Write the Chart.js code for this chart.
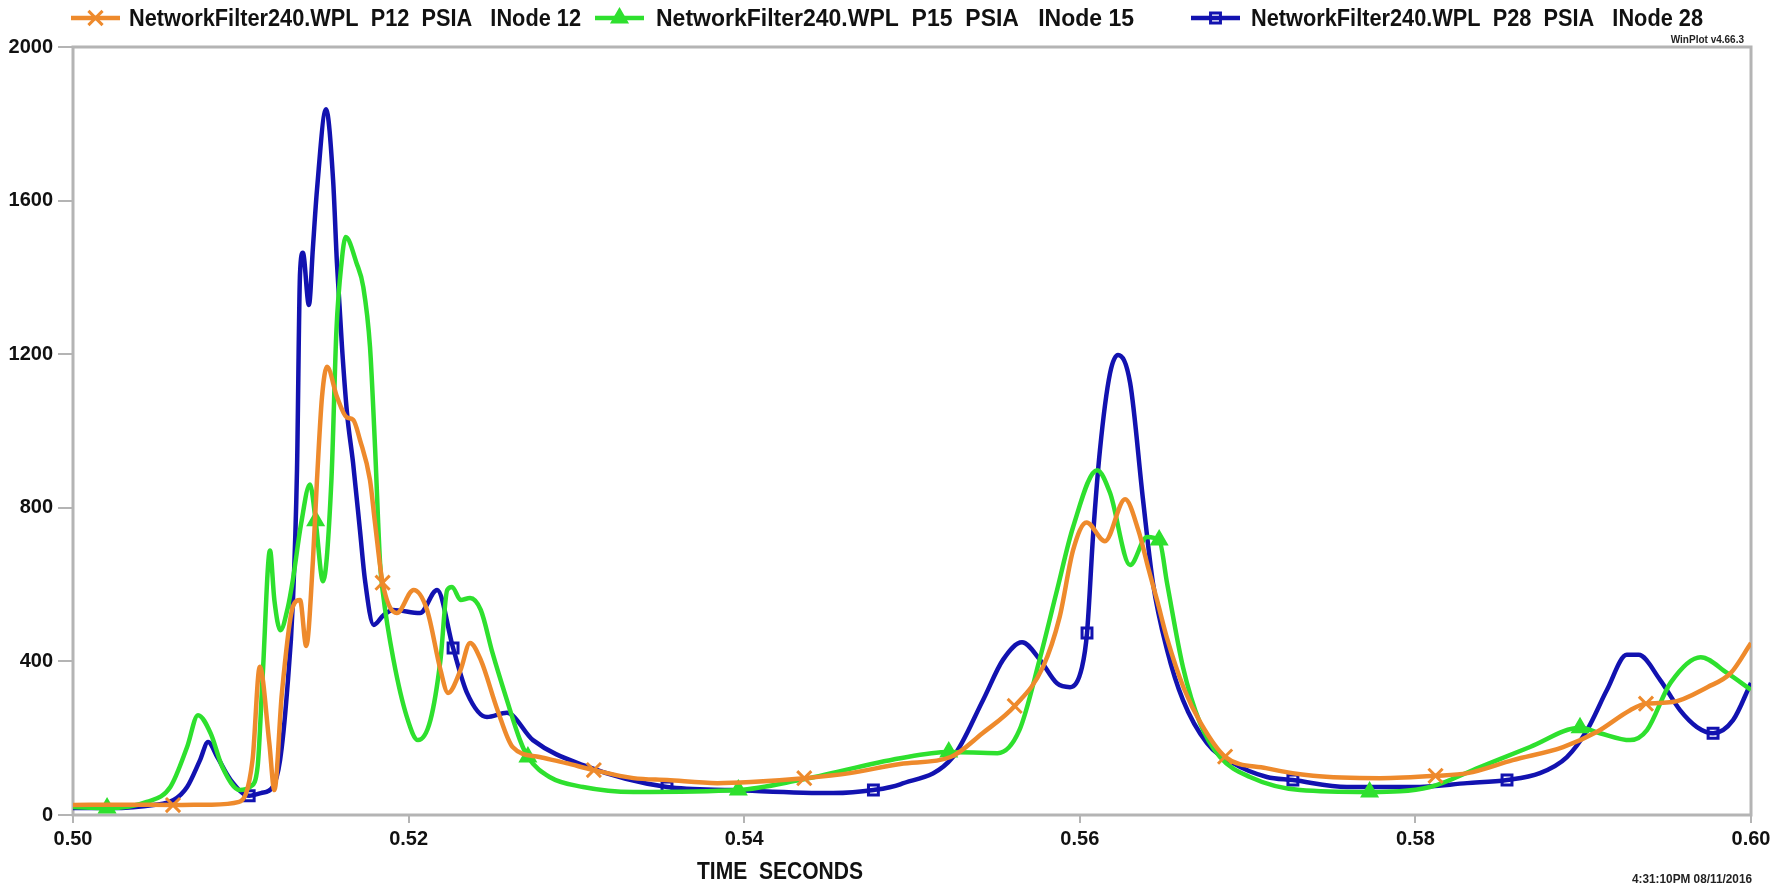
<!DOCTYPE html>
<html>
<head>
<meta charset="utf-8">
<script src="https://cdn.jsdelivr.net/npm/chart.js@4.4.1/dist/chart.umd.min.js"></script>
<style>
  html, body { margin: 0; padding: 0; background: #fff; }
  #wrap { position: relative; width: 1787px; height: 896px; }
</style>
</head>
<body>
<div id="wrap"><canvas id="chart"></canvas></div>
<script>
// tick labels
const xTicks = [0.50, 0.52, 0.54, 0.56, 0.58, 0.60];
const yTicks = [0, 400, 800, 1200, 1600, 2000];

// P12 (INode 12)
const p12Time = [0.5000, 0.5030, 0.50596, 0.5082, 0.5099, 0.5107, 0.51113, 0.5117, 0.5120, 0.51245,
  0.5131, 0.51353, 0.5139, 0.5143, 0.51454, 0.51484, 0.51514, 0.51573, 0.5163, 0.5167,
  0.5171, 0.5177, 0.5180, 0.51845, 0.5193, 0.5203, 0.5211, 0.5219, 0.52235, 0.5231,
  0.52366, 0.5243, 0.5253, 0.5262, 0.5278, 0.5294, 0.53104, 0.5334, 0.5354, 0.5384,
  0.5404, 0.54358, 0.5463, 0.5493, 0.5523, 0.5542, 0.55612, 0.5578, 0.5588, 0.5596,
  0.5604, 0.5615, 0.5627, 0.5635, 0.5641, 0.5646, 0.5652, 0.5662, 0.5672, 0.56866,
  0.5711, 0.5739, 0.5779, 0.5812, 0.5831, 0.5858, 0.5888, 0.5908, 0.5928, 0.59374,
  0.5953, 0.5974, 0.5988, 0.6000];
const p12Psia = [26, 27, 26, 27, 34, 143, 386, 187, 65, 318,
  542, 560, 440, 664, 872, 1089, 1167, 1089, 1036, 1029,
  977, 872, 760, 605, 526, 586, 534, 378, 318, 378,
  448, 404, 273, 177, 151, 135, 117, 96, 91, 83,
  86, 96, 109, 133, 151, 213, 284, 385, 516, 690,
  762, 713, 822, 740, 640, 560, 460, 330, 240, 152,
  122, 102, 96, 102, 109, 143, 177, 216, 273, 290,
  294, 333, 370, 448];
const p12Marks = [0.50596, 0.51845, 0.53104, 0.54358, 0.55612, 0.56866, 0.5812, 0.59374];

// P15 (INode 15)
const p15Time = [0.5000, 0.50203, 0.5044, 0.5058, 0.5068, 0.50745, 0.5082, 0.5089, 0.50995, 0.5106,
  0.5110, 0.5113, 0.51174, 0.5120, 0.51236, 0.5128, 0.5131, 0.5136, 0.51412, 0.51446,
  0.5149, 0.5154, 0.5157, 0.5160, 0.51625, 0.5169, 0.5173, 0.5177, 0.5180, 0.5183,
  0.51847, 0.5191, 0.5199, 0.52056, 0.5213, 0.5219, 0.5223, 0.52259, 0.5231, 0.52366,
  0.5243, 0.5250, 0.52586, 0.52664, 0.52711, 0.5284, 0.5304, 0.5334, 0.53965, 0.5433,
  0.5493, 0.55219, 0.5551, 0.5564, 0.5576, 0.5586, 0.5596, 0.56103, 0.5618, 0.5630,
  0.5640, 0.56473, 0.5652, 0.56615, 0.56716, 0.56836, 0.57014, 0.57312, 0.57727, 0.58087,
  0.58385, 0.58683, 0.58981, 0.5910, 0.5928, 0.5938, 0.5952, 0.5970, 0.59857, 0.6000];
const p15Psia = [21, 18, 34, 73, 177, 260, 213, 125, 65, 75,
  125, 359, 689, 560, 481, 540, 612, 760, 861, 766,
  609, 872, 1263, 1437, 1505, 1437, 1375, 1219, 958, 656,
  578, 404, 255, 195, 247, 404, 586, 594, 560, 565,
  534, 422, 299, 195, 151, 99, 73, 60, 65, 91,
  148, 164, 161, 221, 404, 578, 750, 898, 839, 651,
  724, 716, 604, 385, 240, 151, 99, 65, 60, 73,
  125, 177, 227, 213, 195, 221, 344, 411, 370, 326];
const p15Marks = [0.50203, 0.51446, 0.52711, 0.53965, 0.55219, 0.56473, 0.57727, 0.58981];

// P28 (INode 28)
const p28Time = [0.5000, 0.5022, 0.5048, 0.5060, 0.5068, 0.50757, 0.50805, 0.5086, 0.5094, 0.5105,
  0.5112, 0.5119, 0.51234, 0.51275, 0.51311, 0.51335, 0.51353, 0.5137, 0.51406, 0.5143,
  0.51454, 0.51508, 0.5155, 0.51573, 0.51603, 0.51633, 0.51669, 0.5171, 0.5174, 0.51792,
  0.5185, 0.51907, 0.52068, 0.5217, 0.52265, 0.52348, 0.52467, 0.52586, 0.52741, 0.5304,
  0.5354, 0.5393, 0.5453, 0.5477, 0.5493, 0.55244, 0.55423, 0.55542, 0.55656, 0.55763,
  0.55864, 0.55942, 0.56013, 0.56043, 0.5608, 0.5612, 0.5618, 0.56228, 0.5630, 0.56377,
  0.56436, 0.5652, 0.56615, 0.56758, 0.56913, 0.57115, 0.5727, 0.57592, 0.57986, 0.58308,
  0.58546, 0.58742, 0.58903, 0.59023, 0.59142, 0.5926, 0.5933, 0.59458, 0.59577, 0.59678,
  0.59774, 0.59893, 0.6000];
const p28Psia = [18, 18, 26, 39, 73, 143, 190, 151, 91, 50,
  57, 73, 143, 318, 560, 900, 1411, 1464, 1328, 1479,
  1628, 1838, 1654, 1437, 1219, 1047, 917, 742, 612, 495,
  520, 534, 526, 586, 435, 318, 255, 266, 195, 130,
  73, 65, 57, 65, 80, 151, 299, 404, 450, 404,
  343, 333, 385, 474, 734, 950, 1150, 1198, 1125, 820,
  604, 430, 299, 187, 135, 99, 91, 73, 73, 83,
  91, 109, 151, 221, 326, 417, 417, 352, 273, 229,
  213, 247, 344];
const p28Marks = [0.5105, 0.52265, 0.5354, 0.5477, 0.56043, 0.5727, 0.58546, 0.59774];

const seriesNames = [
  'NetworkFilter240.WPL  P12  PSIA   INode 12',
  'NetworkFilter240.WPL  P15  PSIA   INode 15',
  'NetworkFilter240.WPL  P28  PSIA   INode 28'
];

const ORANGE = '#EE8A2C';
const GREEN = '#2EE02E';
const BLUE = '#1212B0';
const AXIS_GREY = '#b4b4b4';
const FONT = "'Liberation Sans', Arial, sans-serif";

function toPoints(times, vals, marks) {
  return times.map((t, i) => ({ x: t, y: vals[i], m: marks.includes(t) }));
}

const styles = [
  { color: ORANGE, pointStyle: 'crossRot', radius: 10, fill: ORANGE },
  { color: GREEN, pointStyle: 'triangle', radius: 8, fill: GREEN },
  { color: BLUE, pointStyle: 'rect', radius: 7, fill: 'rgba(255,255,255,0)' }
];

function makeSet(i, pts) {
  const s = styles[i];
  return {
    label: seriesNames[i],
    data: pts,
    borderColor: s.color,
    borderWidth: 4.5,
    cubicInterpolationMode: 'monotone',
    pointStyle: s.pointStyle,
    pointRadius: c => (c.raw && c.raw.m ? s.radius : 0),
    pointBorderWidth: 3,
    pointBorderColor: s.color,
    pointBackgroundColor: s.fill
  };
}

// squeeze text into a given width (the original uses a narrow face)
function fitText(ctx, text, x, y, width, align) {
  const w = ctx.measureText(text).width;
  const sx = Math.min(1, width / w);
  ctx.save();
  ctx.translate(x, y);
  ctx.scale(sx, 1);
  ctx.textAlign = align;
  ctx.fillText(text, 0, 0);
  ctx.restore();
}

// frame, legend and the loose texts
const decor = {
  id: 'decor',
  beforeDatasetsDraw(chart) {
    const { ctx, chartArea: a } = chart;
    ctx.save();
    ctx.strokeStyle = AXIS_GREY;
    ctx.lineWidth = 3;
    ctx.strokeRect(a.left, a.top, a.right - a.left, a.bottom - a.top);
    ctx.restore();
  },
  afterDraw(chart) {
    const ctx = chart.ctx;
    ctx.save();
    const legendX = [[71, 129, 452], [595, 656, 478], [1191, 1251, 452]];
    const ly = 18;
    styles.forEach((s, i) => {
      const [x0, tx, tw] = legendX[i];
      ctx.strokeStyle = s.color;
      ctx.lineWidth = 4.5;
      ctx.beginPath();
      ctx.moveTo(x0, ly);
      ctx.lineTo(x0 + 49, ly);
      ctx.stroke();
      ctx.lineWidth = 3;
      ctx.fillStyle = s.fill;
      Chart.helpers.drawPoint(ctx, { pointStyle: s.pointStyle, radius: s.radius, rotation: 0, borderWidth: 3 }, x0 + 24.5, ly);
      ctx.fillStyle = '#111';
      ctx.font = 'bold 24px ' + FONT;
      ctx.textBaseline = 'middle';
      fitText(ctx, seriesNames[i], tx, ly + 1, tw, 'left');
    });

    ctx.fillStyle = '#222';
    ctx.textBaseline = 'middle';
    ctx.font = 'bold 10px ' + FONT;
    fitText(ctx, 'WinPlot v4.66.3', 1744, 40, 74, 'right');

    ctx.font = 'bold 12px ' + FONT;
    fitText(ctx, '4:31:10PM 08/11/2016', 1752, 880, 120, 'right');

    ctx.fillStyle = '#111';
    ctx.font = 'bold 24px ' + FONT;
    fitText(ctx, 'TIME  SECONDS', 780, 872, 166, 'center');
    ctx.restore();
  }
};

new Chart(document.getElementById('chart'), {
  type: 'line',
  data: {
    datasets: [
      makeSet(0, toPoints(p12Time, p12Psia, p12Marks)),
      makeSet(1, toPoints(p15Time, p15Psia, p15Marks)),
      makeSet(2, toPoints(p28Time, p28Psia, p28Marks))
    ]
  },
  options: {
    responsive: true,
    maintainAspectRatio: false,
    animation: false,
    events: [],
    layout: { padding: { left: 0, right: 36, top: 47, bottom: 0 } },
    plugins: { legend: { display: false }, tooltip: { enabled: false } },
    scales: {
      x: {
        type: 'linear',
        min: xTicks[0],
        max: xTicks[xTicks.length - 1],
        afterBuildTicks: sc => { sc.ticks = xTicks.map(v => ({ value: v })); },
        afterFit: sc => { sc.height = 81; },
        border: { display: false },
        grid: { drawOnChartArea: false, tickLength: 8, color: AXIS_GREY, lineWidth: 2 },
        ticks: {
          color: '#111',
          padding: 4,
          maxRotation: 0,
          font: { family: FONT, size: 20, weight: 'bold' },
          callback: v => Number(v).toFixed(2)
        }
      },
      y: {
        min: yTicks[0],
        max: yTicks[yTicks.length - 1],
        afterBuildTicks: sc => { sc.ticks = yTicks.map(v => ({ value: v })); },
        afterFit: sc => { sc.width = 73; },
        border: { display: false },
        grid: { drawOnChartArea: false, tickLength: 15, color: AXIS_GREY, lineWidth: 2 },
        ticks: {
          color: '#111',
          padding: 5,
          font: { family: FONT, size: 20, weight: 'bold' },
          callback: v => String(v)
        }
      }
    }
  },
  plugins: [decor]
});
</script>
</body>
</html>
